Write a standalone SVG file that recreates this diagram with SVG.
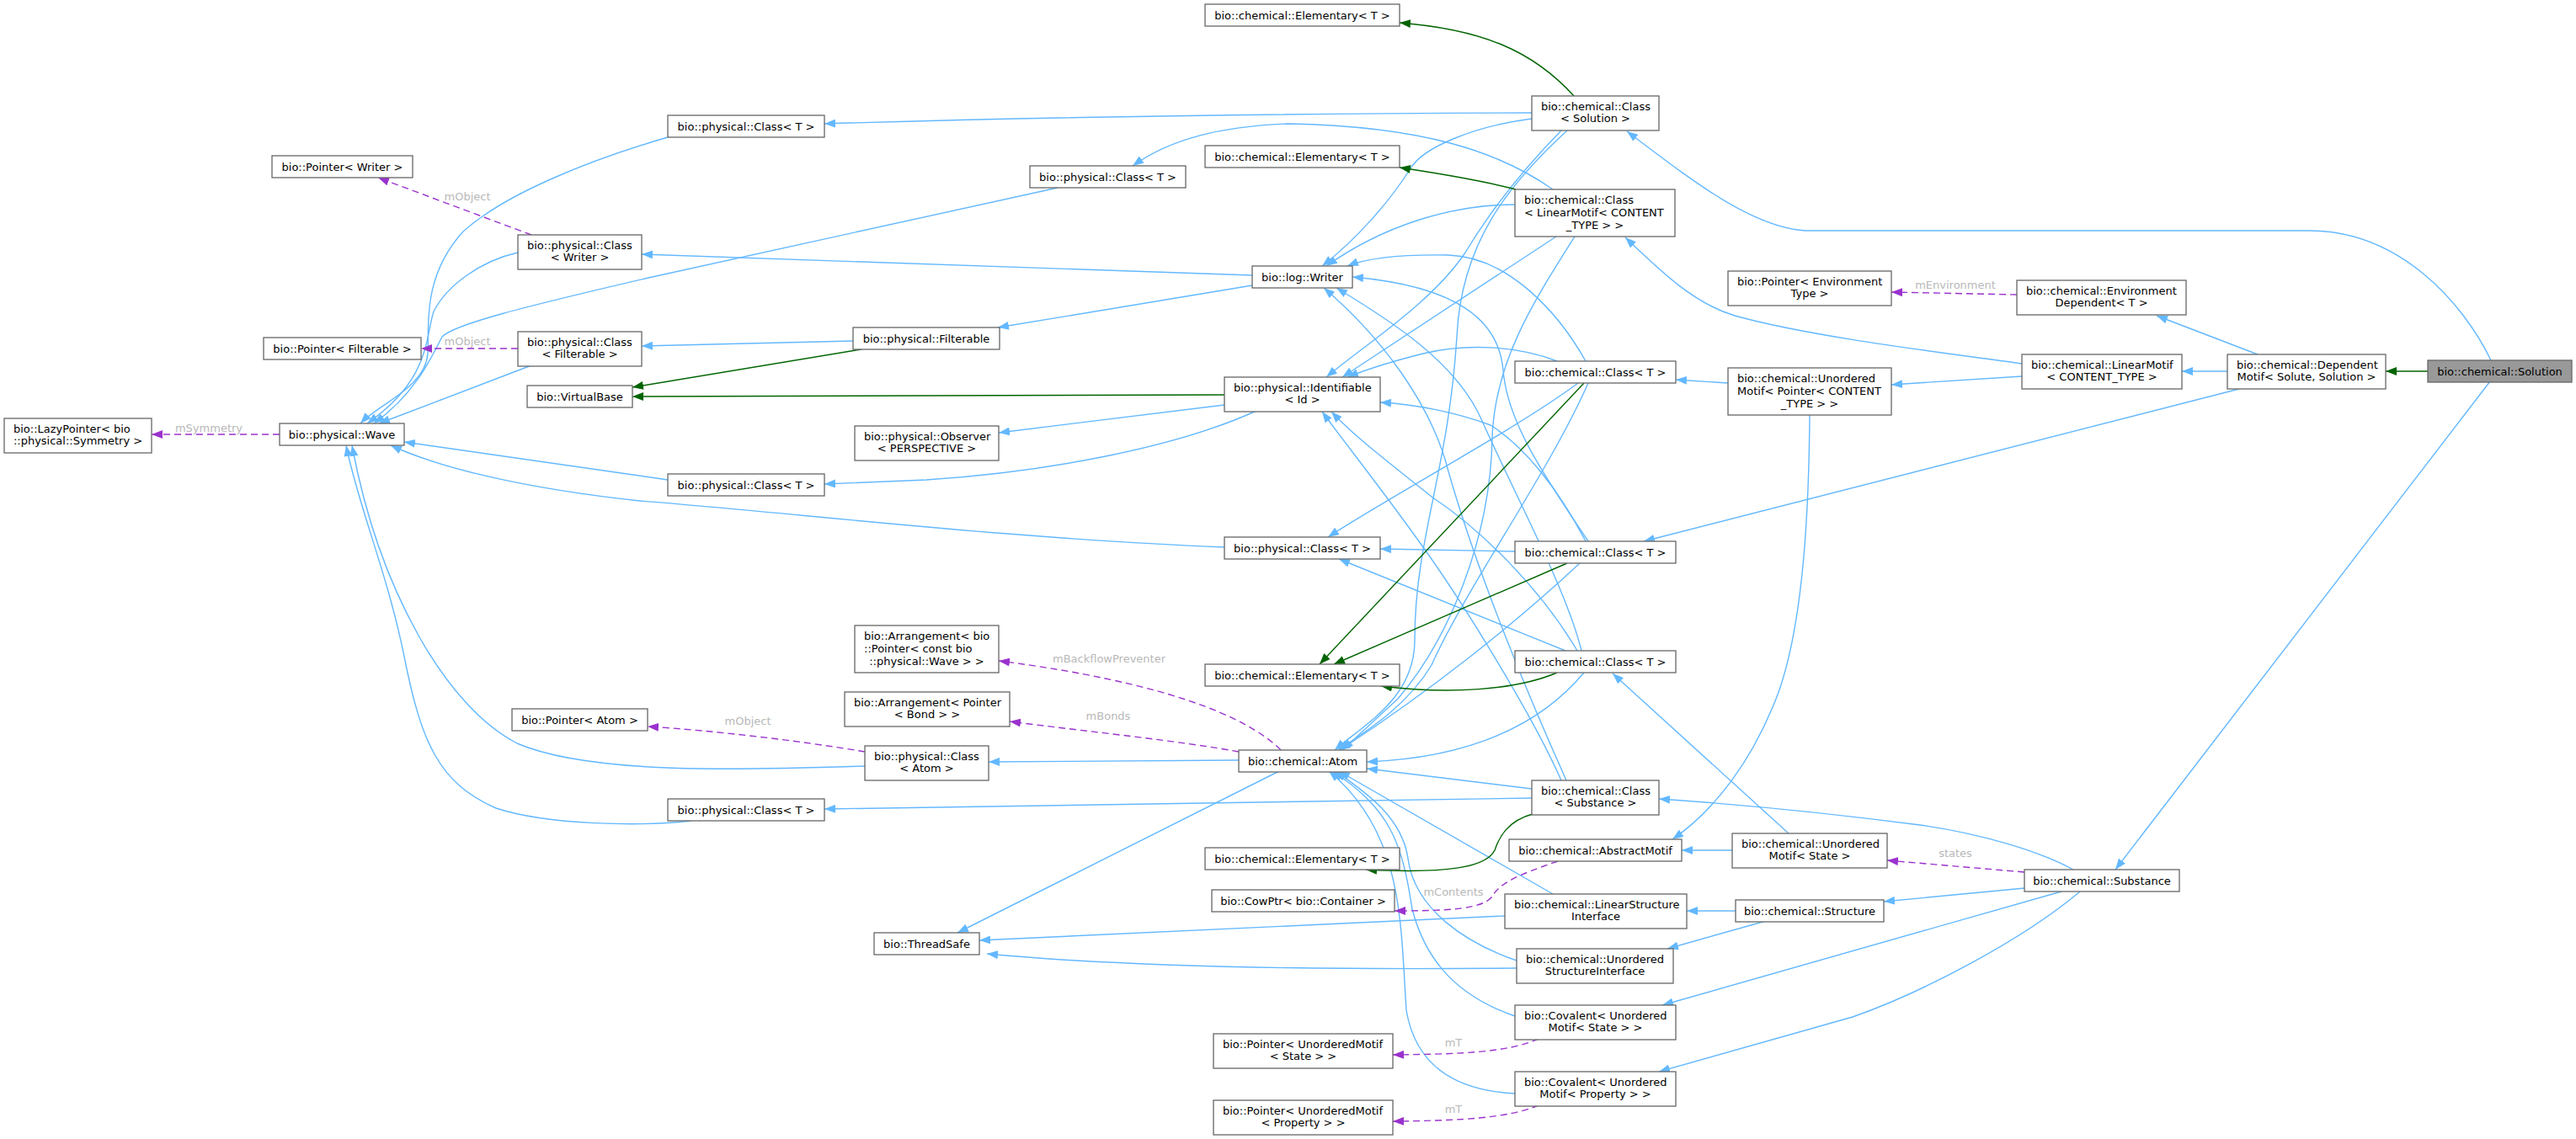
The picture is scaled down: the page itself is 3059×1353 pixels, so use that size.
<svg xmlns="http://www.w3.org/2000/svg" width="3059" height="1353" viewBox="0 0 3059 1353">
<style>
rect{fill:#fff;stroke:#666;stroke-width:1.3}
.hl rect{fill:#999}
text{font-family:"DejaVu Sans",sans-serif;font-size:13px;fill:#000}
.l{text-anchor:start}
.c{text-anchor:middle}
.el{fill:#b8b8b8;text-anchor:middle}
.e path{fill:none;stroke:#63b8ff;stroke-width:1.4;marker-end:url(#ab)}
.g path{fill:none;stroke:#006400;stroke-width:1.4;marker-end:url(#ag)}
.u path{fill:none;stroke:#9a32cd;stroke-width:1.4;stroke-dasharray:8,5;marker-end:url(#au)}
</style>
<defs>
<marker id="ab" viewBox="0 0 13 10" refX="13" refY="5" markerWidth="13" markerHeight="10" orient="auto" markerUnits="userSpaceOnUse"><path d="M0,0 L13,5 L0,10 z" fill="#63b8ff"/></marker>
<marker id="ag" viewBox="0 0 13 10" refX="13" refY="5" markerWidth="13" markerHeight="10" orient="auto" markerUnits="userSpaceOnUse"><path d="M0,0 L13,5 L0,10 z" fill="#006400"/></marker>
<marker id="au" viewBox="0 0 13 10" refX="13" refY="5" markerWidth="13" markerHeight="10" orient="auto" markerUnits="userSpaceOnUse"><path d="M0,0 L13,5 L0,10 z" fill="#9a32cd"/></marker>
</defs>
<rect x="0" y="0" width="3059" height="1353" style="fill:#fff;stroke:none"/>
<g id="connectors">
<g class="e">
<path d="M2958,428 C2925,360 2850,274 2742,274 L2144,274 C2080,270 2010,215 1932,156"/>
<path d="M2957,453 L2512,1033"/>
<path d="M2645,441 L2591,441"/>
<path d="M2681,421 L2561,375"/>
<path d="M2659,462 L1952,643"/>
<path d="M2401,432 C2300,418 2150,400 2060,375 C2010,360 1970,320 1930,282"/>
<path d="M2401,447 L2246,457"/>
<path d="M2052,455 L1990,451"/>
<path d="M2149,492 C2148,620 2140,760 2105,840 C2080,900 2040,960 1986,997"/>
<path d="M2057,1010 L1997,1010"/>
<path d="M2124,990 L1915,800"/>
<path d="M2462,1033 C2420,1010 2350,990 2280,980 C2180,967 2060,955 1970,949"/>
<path d="M2404,1055 L2237,1071"/>
<path d="M2448,1059 L1974,1194"/>
<path d="M2470,1059 C2400,1118 2280,1180 2200,1208 L1970,1273"/>
<path d="M2061,1082 L2003,1082"/>
<path d="M2097,1094 L1980,1127"/>
<path d="M1819,948 C1500,952 1200,958 979,961"/>
<path d="M1819,937 L1623,913"/>
<path d="M1860,927 C1830,860 1760,700 1720,560 C1700,480 1640,400 1572,342"/>
<path d="M1854,927 C1820,850 1740,720 1690,650 C1640,580 1600,530 1570,489"/>
<path d="M1819,134 C1500,135 1200,140 979,147"/>
<path d="M1819,141 C1750,150 1690,175 1675,200 C1650,240 1610,285 1570,316"/>
<path d="M1854,155 C1810,200 1770,250 1740,300 C1700,360 1620,410 1575,448"/>
<path d="M1861,155 C1790,220 1735,290 1730,400 C1720,560 1680,640 1680,760 C1680,830 1620,860 1585,891"/>
<path d="M1844,225 C1780,180 1690,150 1530,147 C1450,150 1390,165 1345,197"/>
<path d="M1799,243 C1720,243 1640,270 1575,316"/>
<path d="M1848,281 L1594,448"/>
<path d="M1870,281 C1820,360 1775,430 1772,520 C1770,640 1720,760 1660,830 L1594,891"/>
<path d="M1883,429 C1850,370 1790,305 1720,303 C1660,302 1620,308 1600,316"/>
<path d="M1849,429 C1800,410 1740,408 1690,420 C1650,430 1620,440 1600,448"/>
<path d="M1874,455 C1800,510 1650,590 1577,638"/>
<path d="M1886,455 C1840,560 1740,700 1700,790 C1670,840 1620,870 1589,891"/>
<path d="M1799,655 L1639,652"/>
<path d="M1876,669 C1800,740 1700,820 1591,891"/>
<path d="M1883,643 C1850,580 1810,530 1770,505 C1730,490 1680,480 1639,478"/>
<path d="M1886,643 C1830,560 1790,500 1785,440 C1780,380 1730,340 1606,329"/>
<path d="M1859,773 L1590,664"/>
<path d="M1881,799 C1830,860 1750,900 1623,905"/>
<path d="M1878,773 C1860,700 1800,590 1760,500 C1730,430 1650,380 1587,342"/>
<path d="M1873,773 C1830,700 1760,630 1700,590 C1650,550 1610,520 1581,489"/>
<path d="M1844,1062 L1590,916"/>
<path d="M1801,1141 C1740,1120 1680,1080 1672,1020 C1665,970 1620,940 1586,916"/>
<path d="M1799,1207 C1720,1180 1690,1130 1677,1080 C1665,1000 1650,960 1582,916"/>
<path d="M1799,1299 C1720,1295 1680,1260 1670,1200 C1663,1100 1668,990 1578,916"/>
<path d="M1519,916 L1137,1108"/>
<path d="M1787,1088 L1163,1117"/>
<path d="M1801,1150 C1600,1152 1350,1150 1172,1133"/>
<path d="M1471,903 L1174,905"/>
<path d="M1487,327 L762,302"/>
<path d="M1487,339 L1185,389"/>
<path d="M1013,405 L762,411"/>
<path d="M1454,481 L1186,514"/>
<path d="M1492,488 C1400,530 1250,560 1100,570 L979,575"/>
<path d="M793,163 C700,190 600,230 550,275 C500,330 510,390 508,420 C505,460 450,480 428,503"/>
<path d="M615,300 C570,310 530,340 515,370 C505,400 512,450 436,503"/>
<path d="M1256,223 L770,330 C620,365 540,385 525,400 C510,430 490,470 444,503"/>
<path d="M631,434 L450,503"/>
<path d="M793,570 L480,525"/>
<path d="M1454,650 C1200,640 950,610 760,595 C620,580 520,555 464,529"/>
<path d="M1027,910 C880,915 700,920 614,883 C530,840 450,700 418,529"/>
<path d="M821,975 C760,982 650,980 589,960 C520,930 500,880 480,780 C460,680 425,600 411,529"/>
</g>
<g class="g">
<path d="M2883,441 L2833,441"/>
<path d="M1869,114 C1820,60 1760,35 1662,27"/>
<path d="M1800,225 C1750,212 1700,205 1662,199"/>
<path d="M1881,455 L1567,789"/>
<path d="M1861,669 L1584,789"/>
<path d="M1849,799 C1800,820 1720,825 1640,815"/>
<path d="M1820,967 C1790,975 1780,995 1775,1010 C1765,1030 1720,1038 1622,1033"/>
<path d="M1023,415 L751,460"/>
<path d="M1454,469 L751,471"/>
</g>
<g class="u">
<path d="M2395,350 L2246,347"/>
<path d="M2404,1036 L2241,1022"/>
<path d="M1827,1234 C1790,1250 1740,1252 1654,1253"/>
<path d="M1827,1313 C1790,1328 1740,1331 1654,1332"/>
<path d="M1850,1023 C1800,1040 1780,1050 1772,1065 C1760,1080 1720,1082 1656,1082"/>
<path d="M1521,891 C1480,850 1380,810 1186,785"/>
<path d="M1471,893 C1400,880 1300,870 1199,857"/>
<path d="M1027,893 C950,880 850,868 769,863"/>
<path d="M631,279 L449,211"/>
<path d="M615,414 L500,414"/>
<path d="M332,516 L180,516"/>
</g>
<g id="edge-labels">
<text class="el" x="555" y="238">mObject</text>
<text class="el" x="555" y="410">mObject</text>
<text class="el" x="248" y="513">mSymmetry</text>
<text class="el" x="2322" y="343">mEnvironment</text>
<text class="el" x="1317" y="787">mBackflowPreventer</text>
<text class="el" x="1316" y="855">mBonds</text>
<text class="el" x="888" y="861">mObject</text>
<text class="el" x="2322" y="1018">states</text>
<text class="el" x="1726" y="1064">mContents</text>
<text class="el" x="1726" y="1243">mT</text>
<text class="el" x="1726" y="1322">mT</text>
</g>
</g>
<g id="n1"><rect x="1431" y="5" width="231" height="26"/><text class="c" x="1546.5" y="22.5">bio::chemical::Elementary&lt; T &gt;</text></g>
<g id="n2"><rect x="1819" y="114" width="151" height="41"/><text class="l" x="1830" y="130.5">bio::chemical::Class</text><text class="c" x="1894.5" y="145">&lt; Solution &gt;</text></g>
<g id="n3"><rect x="793" y="137" width="186" height="26"/><text class="c" x="886" y="154.5">bio::physical::Class&lt; T &gt;</text></g>
<g id="n4"><rect x="1223" y="197" width="185" height="26"/><text class="c" x="1315.5" y="214.5">bio::physical::Class&lt; T &gt;</text></g>
<g id="n5"><rect x="1431" y="173" width="231" height="26"/><text class="c" x="1546.5" y="190.5">bio::chemical::Elementary&lt; T &gt;</text></g>
<g id="n6"><rect x="323" y="185" width="167" height="26"/><text class="c" x="406.5" y="202.5">bio::Pointer&lt; Writer &gt;</text></g>
<g id="n7"><rect x="1799" y="225" width="190" height="56"/><text class="l" x="1810" y="241.5">bio::chemical::Class</text><text class="l" x="1810" y="256.5">&lt; LinearMotif&lt; CONTENT</text><text class="c" x="1894" y="271.5">_TYPE &gt; &gt;</text></g>
<g id="n8"><rect x="615" y="279" width="147" height="41"/><text class="l" x="626" y="295.5">bio::physical::Class</text><text class="c" x="688.5" y="310">&lt; Writer &gt;</text></g>
<g id="n9"><rect x="1487" y="316" width="119" height="26"/><text class="c" x="1546.5" y="333.5">bio::log::Writer</text></g>
<g id="n10"><rect x="2052" y="322" width="194" height="41"/><text class="l" x="2063" y="338.5">bio::Pointer&lt; Environment</text><text class="c" x="2149" y="353">Type &gt;</text></g>
<g id="n11"><rect x="2395" y="333" width="201" height="41"/><text class="l" x="2406" y="349.5">bio::chemical::Environment</text><text class="c" x="2495.5" y="364">Dependent&lt; T &gt;</text></g>
<g id="n12"><rect x="313" y="401" width="187" height="26"/><text class="c" x="406.5" y="418.5">bio::Pointer&lt; Filterable &gt;</text></g>
<g id="n13"><rect x="615" y="394" width="147" height="41"/><text class="l" x="626" y="410.5">bio::physical::Class</text><text class="c" x="688.5" y="425">&lt; Filterable &gt;</text></g>
<g id="n14"><rect x="1013" y="389" width="174" height="26"/><text class="c" x="1100" y="406.5">bio::physical::Filterable</text></g>
<g id="n15"><rect x="2401" y="421" width="190" height="41"/><text class="l" x="2412" y="437.5">bio::chemical::LinearMotif</text><text class="c" x="2496" y="452">&lt; CONTENT_TYPE &gt;</text></g>
<g id="n16"><rect x="2645" y="421" width="188" height="41"/><text class="l" x="2656" y="437.5">bio::chemical::Dependent</text><text class="c" x="2739" y="452">Motif&lt; Solute, Solution &gt;</text></g>
<g id="n17" class="hl"><rect x="2883" y="428" width="171" height="26"/><text class="c" x="2968.5" y="445.5">bio::chemical::Solution</text></g>
<g id="n18"><rect x="1799" y="429" width="191" height="26"/><text class="c" x="1894.5" y="446.5">bio::chemical::Class&lt; T &gt;</text></g>
<g id="n19"><rect x="2052" y="437" width="194" height="56"/><text class="l" x="2063" y="453.5">bio::chemical::Unordered</text><text class="l" x="2063" y="468.5">Motif&lt; Pointer&lt; CONTENT</text><text class="c" x="2149" y="483.5">_TYPE &gt; &gt;</text></g>
<g id="n20"><rect x="626" y="458" width="125" height="26"/><text class="c" x="688.5" y="475.5">bio::VirtualBase</text></g>
<g id="n21"><rect x="1454" y="448" width="185" height="41"/><text class="l" x="1465" y="464.5">bio::physical::Identifiable</text><text class="c" x="1546.5" y="479">&lt; Id &gt;</text></g>
<g id="n22"><rect x="5" y="497" width="175" height="41"/><text class="l" x="16" y="513.5">bio::LazyPointer&lt; bio</text><text class="c" x="92.5" y="528">::physical::Symmetry &gt;</text></g>
<g id="n23"><rect x="332" y="503" width="148" height="26"/><text class="c" x="406" y="520.5">bio::physical::Wave</text></g>
<g id="n24"><rect x="1015" y="506" width="171" height="41"/><text class="l" x="1026" y="522.5">bio::physical::Observer</text><text class="c" x="1100.5" y="537">&lt; PERSPECTIVE &gt;</text></g>
<g id="n25"><rect x="793" y="563" width="186" height="26"/><text class="c" x="886" y="580.5">bio::physical::Class&lt; T &gt;</text></g>
<g id="n26"><rect x="1454" y="638" width="185" height="26"/><text class="c" x="1546.5" y="655.5">bio::physical::Class&lt; T &gt;</text></g>
<g id="n27"><rect x="1799" y="643" width="191" height="26"/><text class="c" x="1894.5" y="660.5">bio::chemical::Class&lt; T &gt;</text></g>
<g id="n28"><rect x="1015" y="743" width="171" height="56"/><text class="l" x="1026" y="759.5">bio::Arrangement&lt; bio</text><text class="l" x="1026" y="774.5">::Pointer&lt; const bio</text><text class="c" x="1100.5" y="789.5">::physical::Wave &gt; &gt;</text></g>
<g id="n29"><rect x="1431" y="789" width="231" height="26"/><text class="c" x="1546.5" y="806.5">bio::chemical::Elementary&lt; T &gt;</text></g>
<g id="n30"><rect x="1799" y="773" width="191" height="26"/><text class="c" x="1894.5" y="790.5">bio::chemical::Class&lt; T &gt;</text></g>
<g id="n31"><rect x="1003" y="822" width="196" height="41"/><text class="l" x="1014" y="838.5">bio::Arrangement&lt; Pointer</text><text class="c" x="1101" y="853">&lt; Bond &gt; &gt;</text></g>
<g id="n32"><rect x="608" y="842" width="161" height="26"/><text class="c" x="688.5" y="859.5">bio::Pointer&lt; Atom &gt;</text></g>
<g id="n33"><rect x="1027" y="886" width="147" height="41"/><text class="l" x="1038" y="902.5">bio::physical::Class</text><text class="c" x="1100.5" y="917">&lt; Atom &gt;</text></g>
<g id="n34"><rect x="1471" y="891" width="152" height="26"/><text class="c" x="1547" y="908.5">bio::chemical::Atom</text></g>
<g id="n35"><rect x="793" y="949" width="186" height="26"/><text class="c" x="886" y="966.5">bio::physical::Class&lt; T &gt;</text></g>
<g id="n36"><rect x="1819" y="927" width="151" height="41"/><text class="l" x="1830" y="943.5">bio::chemical::Class</text><text class="c" x="1894.5" y="958">&lt; Substance &gt;</text></g>
<g id="n37"><rect x="2057" y="990" width="184" height="41"/><text class="l" x="2068" y="1006.5">bio::chemical::Unordered</text><text class="c" x="2149" y="1021">Motif&lt; State &gt;</text></g>
<g id="n38"><rect x="1792" y="997" width="205" height="26"/><text class="c" x="1894.5" y="1014.5">bio::chemical::AbstractMotif</text></g>
<g id="n39"><rect x="1431" y="1007" width="231" height="26"/><text class="c" x="1546.5" y="1024.5">bio::chemical::Elementary&lt; T &gt;</text></g>
<g id="n40"><rect x="2404" y="1033" width="184" height="26"/><text class="c" x="2496" y="1050.5">bio::chemical::Substance</text></g>
<g id="n41"><rect x="1439" y="1057" width="217" height="26"/><text class="c" x="1547.5" y="1074.5">bio::CowPtr&lt; bio::Container &gt;</text></g>
<g id="n42"><rect x="1787" y="1062" width="216" height="41"/><text class="l" x="1798" y="1078.5">bio::chemical::LinearStructure</text><text class="c" x="1895" y="1093">Interface</text></g>
<g id="n43"><rect x="2061" y="1069" width="176" height="26"/><text class="c" x="2149" y="1086.5">bio::chemical::Structure</text></g>
<g id="n44"><rect x="1038" y="1108" width="125" height="26"/><text class="c" x="1100.5" y="1125.5">bio::ThreadSafe</text></g>
<g id="n45"><rect x="1801" y="1127" width="186" height="41"/><text class="l" x="1812" y="1143.5">bio::chemical::Unordered</text><text class="c" x="1894" y="1158">StructureInterface</text></g>
<g id="n46"><rect x="1799" y="1194" width="191" height="41"/><text class="l" x="1810" y="1210.5">bio::Covalent&lt; Unordered</text><text class="c" x="1894.5" y="1225">Motif&lt; State &gt; &gt;</text></g>
<g id="n47"><rect x="1441" y="1228" width="213" height="41"/><text class="l" x="1452" y="1244.5">bio::Pointer&lt; UnorderedMotif</text><text class="c" x="1547.5" y="1259">&lt; State &gt; &gt;</text></g>
<g id="n48"><rect x="1799" y="1273" width="191" height="41"/><text class="l" x="1810" y="1289.5">bio::Covalent&lt; Unordered</text><text class="c" x="1894.5" y="1304">Motif&lt; Property &gt; &gt;</text></g>
<g id="n49"><rect x="1441" y="1307" width="213" height="41"/><text class="l" x="1452" y="1323.5">bio::Pointer&lt; UnorderedMotif</text><text class="c" x="1547.5" y="1338">&lt; Property &gt; &gt;</text></g>
</svg>
